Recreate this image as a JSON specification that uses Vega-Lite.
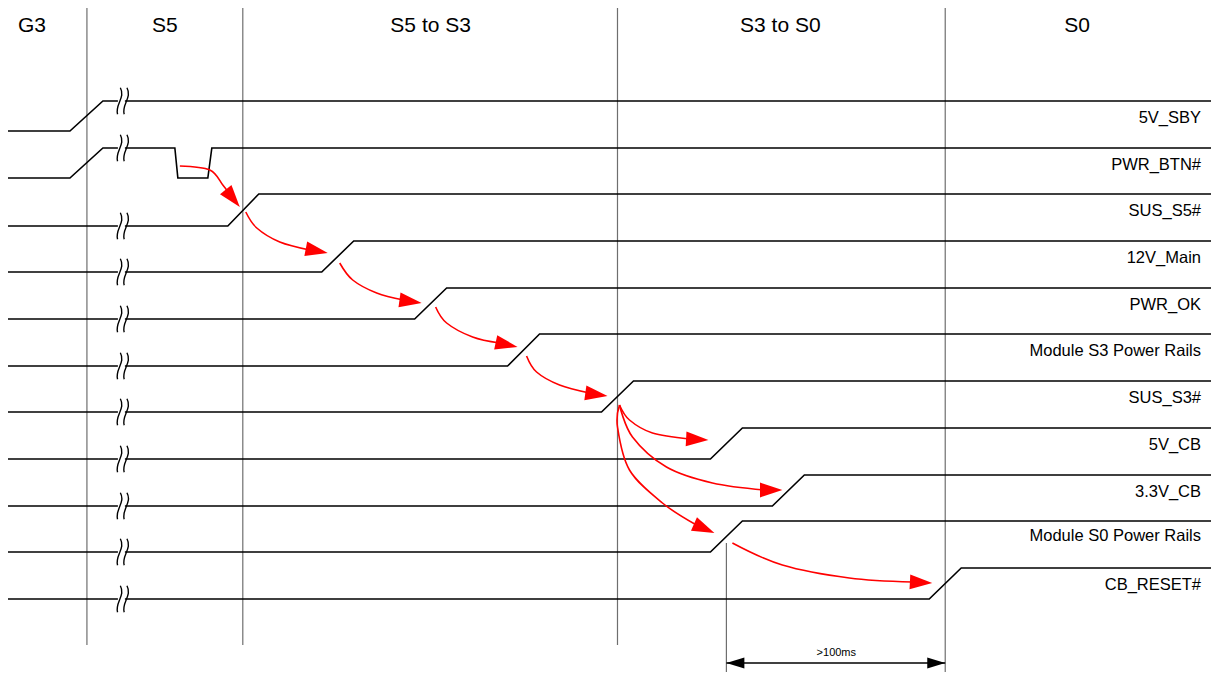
{
  "$schema": "https://vega.github.io/schema/vega-lite/v6.json",
  "width": 1215,
  "height": 673,
  "autosize": {"type": "fit", "contains": "padding"},
  "padding": 0,
  "background": "white",
  "config": {"view": {"stroke": null}, "text": {"font": "Liberation Sans"}},
  "datasets": {
    "dividers": [
      {"x": 87, "y": 8, "y2": 645},
      {"x": 243, "y": 8, "y2": 645},
      {"x": 618, "y": 8, "y2": 645},
      {"x": 946, "y": 8, "y2": 672},
      {"x": 727, "y": 543, "y2": 672}
    ],
    "signals": [
      {"s": "1a", "i": 0, "x": 8, "y": 131}, {"s": "1a", "i": 1, "x": 70, "y": 131}, {"s": "1a", "i": 2, "x": 103, "y": 101}, {"s": "1a", "i": 3, "x": 118, "y": 101},
      {"s": "1b", "i": 0, "x": 125, "y": 101}, {"s": "1b", "i": 1, "x": 1212, "y": 101},
      {"s": "2a", "i": 0, "x": 8, "y": 178}, {"s": "2a", "i": 1, "x": 70, "y": 178}, {"s": "2a", "i": 2, "x": 103, "y": 148}, {"s": "2a", "i": 3, "x": 118, "y": 148},
      {"s": "2b", "i": 0, "x": 125, "y": 148}, {"s": "2b", "i": 1, "x": 175, "y": 148}, {"s": "2b", "i": 2, "x": 178, "y": 178}, {"s": "2b", "i": 3, "x": 208, "y": 178}, {"s": "2b", "i": 4, "x": 212, "y": 148}, {"s": "2b", "i": 5, "x": 1212, "y": 148},
      {"s": "3a", "i": 0, "x": 8, "y": 226}, {"s": "3a", "i": 1, "x": 118, "y": 226},
      {"s": "3b", "i": 0, "x": 125, "y": 226}, {"s": "3b", "i": 1, "x": 228, "y": 226}, {"s": "3b", "i": 2, "x": 259, "y": 194}, {"s": "3b", "i": 3, "x": 1212, "y": 194},
      {"s": "4a", "i": 0, "x": 8, "y": 272}, {"s": "4a", "i": 1, "x": 118, "y": 272},
      {"s": "4b", "i": 0, "x": 125, "y": 272}, {"s": "4b", "i": 1, "x": 322, "y": 272}, {"s": "4b", "i": 2, "x": 354, "y": 241}, {"s": "4b", "i": 3, "x": 1212, "y": 241},
      {"s": "5a", "i": 0, "x": 8, "y": 319}, {"s": "5a", "i": 1, "x": 118, "y": 319},
      {"s": "5b", "i": 0, "x": 125, "y": 319}, {"s": "5b", "i": 1, "x": 415, "y": 319}, {"s": "5b", "i": 2, "x": 447, "y": 288}, {"s": "5b", "i": 3, "x": 1212, "y": 288},
      {"s": "6a", "i": 0, "x": 8, "y": 366}, {"s": "6a", "i": 1, "x": 118, "y": 366},
      {"s": "6b", "i": 0, "x": 125, "y": 366}, {"s": "6b", "i": 1, "x": 508, "y": 366}, {"s": "6b", "i": 2, "x": 540, "y": 334}, {"s": "6b", "i": 3, "x": 1212, "y": 334},
      {"s": "7a", "i": 0, "x": 8, "y": 412}, {"s": "7a", "i": 1, "x": 118, "y": 412},
      {"s": "7b", "i": 0, "x": 125, "y": 412}, {"s": "7b", "i": 1, "x": 602, "y": 412}, {"s": "7b", "i": 2, "x": 634, "y": 381}, {"s": "7b", "i": 3, "x": 1212, "y": 381},
      {"s": "8a", "i": 0, "x": 8, "y": 459}, {"s": "8a", "i": 1, "x": 118, "y": 459},
      {"s": "8b", "i": 0, "x": 125, "y": 459}, {"s": "8b", "i": 1, "x": 711, "y": 459}, {"s": "8b", "i": 2, "x": 743, "y": 428}, {"s": "8b", "i": 3, "x": 1212, "y": 428},
      {"s": "9a", "i": 0, "x": 8, "y": 506}, {"s": "9a", "i": 1, "x": 118, "y": 506},
      {"s": "9b", "i": 0, "x": 125, "y": 506}, {"s": "9b", "i": 1, "x": 773, "y": 506}, {"s": "9b", "i": 2, "x": 805, "y": 475}, {"s": "9b", "i": 3, "x": 1212, "y": 475},
      {"s": "10a", "i": 0, "x": 8, "y": 552}, {"s": "10a", "i": 1, "x": 118, "y": 552},
      {"s": "10b", "i": 0, "x": 125, "y": 552}, {"s": "10b", "i": 1, "x": 711, "y": 552}, {"s": "10b", "i": 2, "x": 743, "y": 521}, {"s": "10b", "i": 3, "x": 1212, "y": 521},
      {"s": "11a", "i": 0, "x": 8, "y": 599}, {"s": "11a", "i": 1, "x": 118, "y": 599},
      {"s": "11b", "i": 0, "x": 125, "y": 599}, {"s": "11b", "i": 1, "x": 930, "y": 599}, {"s": "11b", "i": 2, "x": 962, "y": 568}, {"s": "11b", "i": 3, "x": 1212, "y": 568}
    ],
    "breaks": [
      {"x": 121.5, "y": 101}, {"x": 121.5, "y": 148}, {"x": 121.5, "y": 226}, {"x": 121.5, "y": 272},
      {"x": 121.5, "y": 319}, {"x": 121.5, "y": 366}, {"x": 121.5, "y": 412}, {"x": 121.5, "y": 459},
      {"x": 121.5, "y": 506}, {"x": 121.5, "y": 552}, {"x": 121.5, "y": 599}
    ],
    "arrows": [
      {"a": 1, "i": 0, "x": 180, "y": 166}, {"a": 1, "i": 1, "x": 210, "y": 170}, {"a": 1, "i": 2, "x": 223, "y": 185}, {"a": 1, "i": 3, "x": 229, "y": 193},
      {"a": 2, "i": 0, "x": 246, "y": 212}, {"a": 2, "i": 1, "x": 257, "y": 228}, {"a": 2, "i": 2, "x": 280, "y": 242}, {"a": 2, "i": 3, "x": 310, "y": 250},
      {"a": 3, "i": 0, "x": 340, "y": 263}, {"a": 3, "i": 1, "x": 353, "y": 280}, {"a": 3, "i": 2, "x": 377, "y": 293}, {"a": 3, "i": 3, "x": 404, "y": 300},
      {"a": 4, "i": 0, "x": 436, "y": 307}, {"a": 4, "i": 1, "x": 447, "y": 323}, {"a": 4, "i": 2, "x": 473, "y": 337}, {"a": 4, "i": 3, "x": 500, "y": 343},
      {"a": 5, "i": 0, "x": 527, "y": 356}, {"a": 5, "i": 1, "x": 537, "y": 372}, {"a": 5, "i": 2, "x": 560, "y": 385}, {"a": 5, "i": 3, "x": 590, "y": 393},
      {"a": 6, "i": 0, "x": 620, "y": 405}, {"a": 6, "i": 1, "x": 630, "y": 420}, {"a": 6, "i": 2, "x": 653, "y": 433}, {"a": 6, "i": 3, "x": 690, "y": 439},
      {"a": 7, "i": 0, "x": 620, "y": 405}, {"a": 7, "i": 1, "x": 633, "y": 437}, {"a": 7, "i": 2, "x": 667, "y": 467}, {"a": 7, "i": 3, "x": 713, "y": 483}, {"a": 7, "i": 4, "x": 765, "y": 490},
      {"a": 8, "i": 0, "x": 620, "y": 405}, {"a": 8, "i": 1, "x": 618, "y": 427}, {"a": 8, "i": 2, "x": 630, "y": 470}, {"a": 8, "i": 3, "x": 663, "y": 503}, {"a": 8, "i": 4, "x": 697, "y": 525},
      {"a": 9, "i": 0, "x": 733, "y": 543}, {"a": 9, "i": 1, "x": 783, "y": 565}, {"a": 9, "i": 2, "x": 850, "y": 578}, {"a": 9, "i": 3, "x": 913, "y": 582}
    ],
    "heads": [
      {"x": 240, "y": 207, "ang": 51}, {"x": 328, "y": 253, "ang": 11}, {"x": 422, "y": 303, "ang": 8},
      {"x": 518, "y": 347, "ang": 12}, {"x": 608, "y": 396, "ang": 8}, {"x": 709, "y": 440, "ang": 3},
      {"x": 783, "y": 490, "ang": 0}, {"x": 715, "y": 533, "ang": 24}, {"x": 933, "y": 583, "ang": 3}
    ],
    "labels": [
      {"t": "5V_SBY", "x": 1202, "y": 123}, {"t": "PWR_BTN#", "x": 1202, "y": 170}, {"t": "SUS_S5#", "x": 1202, "y": 216},
      {"t": "12V_Main", "x": 1202, "y": 263}, {"t": "PWR_OK", "x": 1202, "y": 310}, {"t": "Module S3 Power Rails", "x": 1202, "y": 356},
      {"t": "SUS_S3#", "x": 1202, "y": 403}, {"t": "5V_CB", "x": 1202, "y": 450}, {"t": "3.3V_CB", "x": 1202, "y": 497},
      {"t": "Module S0 Power Rails", "x": 1202, "y": 541}, {"t": "CB_RESET#", "x": 1202, "y": 590}
    ],
    "headers": [
      {"t": "G3", "x": 32, "y": 32}, {"t": "S5", "x": 165, "y": 32}, {"t": "S5 to S3", "x": 431, "y": 32},
      {"t": "S3 to S0", "x": 781, "y": 32}, {"t": "S0", "x": 1078, "y": 32}
    ],
    "dim": [{"x": 727, "x2": 946, "y": 663}],
    "dimheads": [{"x": 727, "y": 663, "ang": 180}, {"x": 946, "y": 663, "ang": 0}],
    "dimtext": [{"t": ">100ms", "x": 837, "y": 656}]
  },
  "layer": [
    {
      "data": {"name": "dividers"},
      "mark": {"type": "rule", "color": "#6e6e6e", "strokeWidth": 1.2},
      "encoding": {
        "x": {"field": "x", "type": "quantitative", "scale": {"domain": [0, 1215], "nice": false, "zero": false}, "axis": null},
        "y": {"field": "y", "type": "quantitative", "scale": {"domain": [0, 673], "nice": false, "zero": false, "reverse": true}, "axis": null},
        "y2": {"field": "y2"}
      }
    },
    {
      "data": {"name": "signals"},
      "mark": {"type": "line", "color": "black", "strokeWidth": 1.6},
      "encoding": {
        "x": {"field": "x", "type": "quantitative"},
        "y": {"field": "y", "type": "quantitative"},
        "detail": {"field": "s"},
        "order": {"field": "i", "type": "quantitative"}
      }
    },
    {
      "data": {"name": "breaks"},
      "mark": {"type": "point", "filled": false, "stroke": "black", "strokeWidth": 1.4, "opacity": 1, "size": 700,
        "shape": "M -0.08 -1 C 0.33 -0.25 -0.5 0.25 -0.29 1 M 0.42 -1 C 0.83 -0.25 0 0.25 0.21 1"},
      "encoding": {
        "x": {"field": "x", "type": "quantitative"},
        "y": {"field": "y", "type": "quantitative"}
      }
    },
    {
      "data": {"name": "arrows"},
      "mark": {"type": "line", "color": "#ff0000", "strokeWidth": 1.6, "interpolate": "cardinal"},
      "encoding": {
        "x": {"field": "x", "type": "quantitative"},
        "y": {"field": "y", "type": "quantitative"},
        "detail": {"field": "a"},
        "order": {"field": "i", "type": "quantitative"}
      }
    },
    {
      "data": {"name": "heads"},
      "mark": {"type": "point", "filled": true, "color": "#ff0000", "opacity": 1, "size": 500, "strokeWidth": 0,
        "shape": "M 0 0 L -2 -0.66 L -2 0.66 Z"},
      "encoding": {
        "x": {"field": "x", "type": "quantitative"},
        "y": {"field": "y", "type": "quantitative"},
        "angle": {"field": "ang", "type": "quantitative", "scale": null}
      }
    },
    {
      "data": {"name": "labels"},
      "mark": {"type": "text", "align": "right", "baseline": "alphabetic", "fontSize": 16.5, "color": "black"},
      "encoding": {
        "x": {"field": "x", "type": "quantitative"},
        "y": {"field": "y", "type": "quantitative"},
        "text": {"field": "t"}
      }
    },
    {
      "data": {"name": "headers"},
      "mark": {"type": "text", "align": "center", "baseline": "alphabetic", "fontSize": 21, "color": "black"},
      "encoding": {
        "x": {"field": "x", "type": "quantitative"},
        "y": {"field": "y", "type": "quantitative"},
        "text": {"field": "t"}
      }
    },
    {
      "data": {"name": "dim"},
      "mark": {"type": "rule", "color": "black", "strokeWidth": 1.3},
      "encoding": {
        "x": {"field": "x", "type": "quantitative"},
        "x2": {"field": "x2"},
        "y": {"field": "y", "type": "quantitative"}
      }
    },
    {
      "data": {"name": "dimheads"},
      "mark": {"type": "point", "filled": true, "color": "black", "opacity": 1, "size": 324, "strokeWidth": 0,
        "shape": "M 0 0 L -2 -0.61 L -2 0.61 Z"},
      "encoding": {
        "x": {"field": "x", "type": "quantitative"},
        "y": {"field": "y", "type": "quantitative"},
        "angle": {"field": "ang", "type": "quantitative", "scale": null}
      }
    },
    {
      "data": {"name": "dimtext"},
      "mark": {"type": "text", "align": "center", "baseline": "alphabetic", "fontSize": 11, "color": "black"},
      "encoding": {
        "x": {"field": "x", "type": "quantitative"},
        "y": {"field": "y", "type": "quantitative"},
        "text": {"field": "t"}
      }
    }
  ]
}
